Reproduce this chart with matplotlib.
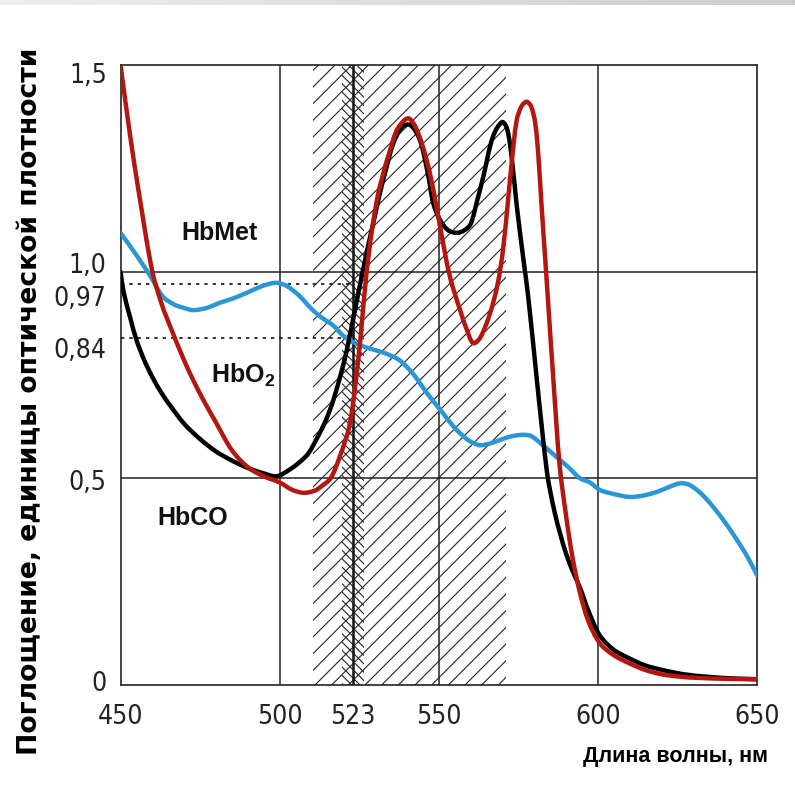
import numpy as np
import matplotlib
matplotlib.use('Agg')
import matplotlib.pyplot as plt
import matplotlib.font_manager as fm
from matplotlib.transforms import ScaledTranslation
from matplotlib.path import Path
from matplotlib.patches import PathPatch

# ---------------- data ----------------
wl_red = [450, 453, 456, 460, 463, 466, 470, 473, 476, 480, 485, 490, 495, 500, 504, 507.5, 511, 513, 516,
          519, 522, 524.7, 526, 527.3, 529, 531, 533, 534.7, 537, 540.4, 543, 546.2, 548.5, 550.4, 553.5,
          556.7, 558.8, 560.8, 563, 566.1, 568.5, 570.3, 572.9, 574.5, 576, 577.6, 579, 580.3, 581.3, 582.3,
          583.9, 586, 588, 590, 592, 594.4, 597, 600.6, 605, 610, 615, 620, 625.8, 632, 640, 650]
abs_red = [1.50, 1.33, 1.18, 1.00, 0.92, 0.86, 0.785, 0.735, 0.69, 0.635, 0.568, 0.527, 0.505, 0.49, 0.472,
           0.465, 0.47, 0.48, 0.50, 0.555, 0.63, 0.786, 0.89, 0.996, 1.10, 1.19, 1.25, 1.294, 1.345, 1.371,
           1.345, 1.27, 1.19, 1.109, 0.988, 0.907, 0.86, 0.827, 0.84, 0.899, 0.97, 1.06, 1.262, 1.367, 1.40,
           1.411, 1.40, 1.36, 1.28, 1.16, 0.98, 0.74, 0.53, 0.41, 0.31, 0.222, 0.155, 0.101, 0.072, 0.052,
           0.036, 0.026, 0.020, 0.017, 0.015, 0.014]

wl_black = [450, 451, 453, 455, 457.5, 460, 463, 466, 470, 475, 480, 485, 490, 495, 499.1, 503.3, 506.4, 509,
            511.6, 514.5, 516.9, 519.5, 521.1, 524, 527.3, 529.5, 531.5, 533.5, 535.7, 538.5, 541, 544, 546.5,
            548.3, 550.4, 553, 555.7, 558, 560, 562, 564, 567, 569.9, 571.5, 573, 574.5, 576.6, 578.1, 580.8,
            582.3, 584, 585, 586.5, 588, 590, 592, 594.4, 597, 600.6, 605, 610, 615, 620.5, 627, 634.2, 642,
            650]
abs_black = [1.00, 0.95, 0.89, 0.835, 0.785, 0.745, 0.705, 0.672, 0.632, 0.595, 0.565, 0.543, 0.525, 0.512,
             0.505, 0.522, 0.54, 0.56, 0.595, 0.64, 0.69, 0.76, 0.81, 0.92, 1.045, 1.12, 1.19, 1.25, 1.31,
             1.35, 1.355, 1.32, 1.24, 1.165, 1.125, 1.10, 1.094, 1.10, 1.115, 1.17, 1.23, 1.326, 1.362, 1.345,
             1.27, 1.16, 1.03, 0.94, 0.74, 0.63, 0.515, 0.47, 0.415, 0.37, 0.318, 0.277, 0.235, 0.18, 0.12,
             0.085, 0.064, 0.047, 0.036, 0.026, 0.020, 0.016, 0.014]

wl_blue = [450, 455, 459.3, 463.4, 467, 469.6, 472.8, 477, 481.3, 485.3, 490, 493.8, 497, 499.2, 501.5,
           503.3, 506.4, 510, 513, 516.8, 520, 524, 527.5, 531, 534, 537.8, 542, 546.3, 551.3, 555, 558.8,
           561, 563, 566, 569.3, 572, 575.6, 578.8, 582, 585, 588, 591, 594.4, 597.5, 600.6, 605, 610, 614,
           618.5, 622, 625.8, 628.5, 631.1, 633.5, 636.2, 640, 643.7, 647, 650]
abs_blue = [1.094, 1.04, 0.99, 0.939, 0.92, 0.913, 0.907, 0.912, 0.925, 0.935, 0.95, 0.963, 0.971, 0.973,
            0.968, 0.96, 0.94, 0.91, 0.89, 0.87, 0.845, 0.826, 0.816, 0.808, 0.80, 0.785, 0.752, 0.706, 0.658,
            0.622, 0.595, 0.585, 0.58, 0.584, 0.593, 0.60, 0.605, 0.603, 0.585, 0.565, 0.545, 0.525, 0.50,
            0.49, 0.472, 0.462, 0.455, 0.458, 0.467, 0.478, 0.488, 0.485, 0.472, 0.455, 0.431, 0.393, 0.351,
            0.31, 0.266]

x_ticks = [450, 500, 523, 550, 600, 650]
x_tick_labels = ['450', '500', '523', '550', '600', '650']
y_ticks = [0, 0.5, 0.84, 0.97, 1.0, 1.5]
y_tick_labels = ['0', '0,5', '0,84', '0,97', '1,0', '1,5']
grid_x = [500, 550, 600]
grid_y = [0.5, 1.0]
isosbestic = 523
ref_levels = [0.97, 0.84]
band_main = (510.5, 571)
band_iso = (519.5, 526.5)
series_labels = ['HbMet', r'HbO$_\mathregular{2}$', 'HbCO']
label_pos = [(481, 1.094), (488.5, 0.75), (472.8, 0.404)]

# ---------------- fonts ----------------
names = {f.name for f in fm.fontManager.ttflist}
narrow = dict(family='DejaVu Sans', stretch='condensed')
for nm in ['Liberation Sans Narrow', 'Arial Narrow']:
    if nm in names:
        narrow = dict(family=nm)
        break

plt.rcParams['hatch.linewidth'] = 0.8
plt.rcParams['font.family'] = ['Liberation Sans', 'DejaVu Sans']


def smooth_path(xs, ys, sx=3.183, sy=413.3):
    """Chord-length Catmull-Rom curve through the given data points (as Bezier segments)."""
    S = np.array([sx, sy])
    Q = np.column_stack([xs, ys]).astype(float) * S
    d = np.linalg.norm(np.diff(Q, axis=0), axis=1)
    t = np.concatenate([[0], np.cumsum(d)])
    n = len(Q)
    m = np.zeros_like(Q)
    m[0] = (Q[1] - Q[0]) / (t[1] - t[0])
    m[-1] = (Q[-1] - Q[-2]) / (t[-1] - t[-2])
    for i in range(1, n - 1):
        m[i] = (Q[i + 1] - Q[i - 1]) / (t[i + 1] - t[i - 1])
    verts = [Q[0]]
    codes = [Path.MOVETO]
    for i in range(n - 1):
        h = t[i + 1] - t[i]
        verts += [Q[i] + m[i] * h / 3, Q[i + 1] - m[i + 1] * h / 3, Q[i + 1]]
        codes += [Path.CURVE4] * 3
    return Path(np.array(verts) / S, codes)


fig = plt.figure(figsize=(7.95, 7.86), dpi=100)

# top slide gradient strip
gax = fig.add_axes([0, 1 - 5 / 786, 1, 5 / 786])
gax.imshow(np.linspace(0.93, 0.80, 256)[None, :], cmap='gray', vmin=0, vmax=1, aspect='auto')
gax.axis('off')

ax = fig.add_axes([0.1516, 0.1285, 0.8006, 0.7888])
ax.set_xlim(450, 650)
ax.set_ylim(0, 1.5)

ax.axvspan(*band_main, facecolor='none', edgecolor='#222222', hatch='//', linewidth=0, zorder=1)
ax.axvspan(*band_iso, facecolor='none', edgecolor='#222222', hatch='\\\\\\\\', linewidth=0, zorder=1)

for gx in grid_x:
    ax.axvline(gx, color='#222222', lw=1.1, zorder=2)
for gy in grid_y:
    ax.axhline(gy, color='#222222', lw=1.1, zorder=2)
ax.axvline(isosbestic, color='#111111', lw=1.8, zorder=2)
ax.hlines(ref_levels, 450, isosbestic, colors='#111111', lw=1.2, linestyles=(0, (2, 3)), zorder=2)

for xs, ys, col, z in [(wl_blue, abs_blue, '#2a97d4', 3), (wl_black, abs_black, '#000000', 4),
                       (wl_red, abs_red, '#b3170f', 5)]:
    ax.add_patch(PathPatch(smooth_path(xs, ys), fill=False, edgecolor=col, lw=3.2, zorder=z,
                           capstyle='round', joinstyle='round'))

for s in ax.spines.values():
    s.set_color('#222222')
    s.set_linewidth(1.2)

ax.set_xticks(x_ticks)
ax.set_xticklabels(x_tick_labels, fontsize=19, **narrow)
ax.set_yticks(y_ticks)
ax.set_yticklabels(y_tick_labels, fontsize=19, **narrow)
ax.tick_params(length=0, pad=10, colors='#222222')
ax.tick_params(axis='x', pad=14)
offs = [4, -2, -10, -12, 9, -8]
for lab, dy in zip(ax.get_yticklabels(), offs):
    lab.set_transform(lab.get_transform() + ScaledTranslation(0, dy / 100, fig.dpi_scale_trans))

for txt, (lx, ly) in zip(series_labels, label_pos):
    ax.text(lx, ly, txt, fontsize=18, fontweight='bold', ha='center', va='center', color='#111111', zorder=6)

ax.set_xlabel('Длина волны, нм', fontsize=15.5, fontweight='bold', ha='right', va='center')
ax.xaxis.set_label_coords(1.017, -0.116)
ax.set_ylabel('Поглощение, единицы оптической плотности', fontsize=19.2, fontweight='bold', va='center',
              family='DejaVu Sans')
ax.yaxis.set_label_coords(-0.143, 0.458)

fig.savefig('out.png', dpi=100)
